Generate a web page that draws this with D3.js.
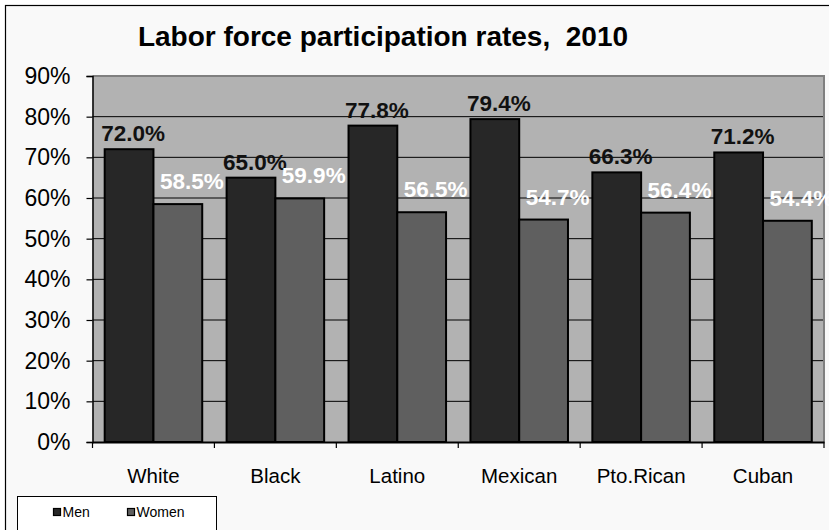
<!DOCTYPE html>
<html>
<head>
<meta charset="utf-8">
<script src="https://cdn.jsdelivr.net/npm/d3@7"></script>
<style>
  html, body { margin: 0; padding: 0; background: #ffffff; }
  svg { display: block; }
  .pre { white-space: pre; }
</style>
</head>
<body>
<svg id="chart" width="829" height="530"></svg>
<script>
const categories = ["White", "Black", "Latino", "Mexican", "Pto.Rican", "Cuban"];
const seriesNames = ["Men", "Women"];
const menValues = [72.0, 65.0, 77.8, 79.4, 66.3, 71.2];
const womenValues = [58.5, 59.9, 56.5, 54.7, 56.4, 54.4];
const yTicks = [0, 10, 20, 30, 40, 50, 60, 70, 80, 90];
const titleText = "Labor force participation rates,  2010";

const colors = { Men: "#272727", Women: "#5f5f5f" };
const labelColors = { Men: "#111111", Women: "#ffffff" };
const labelDx = { Men: 4, Women: 14 };
const labelDy = { Men: -8, Women: -15 };

const svg = d3.select("#chart");
const W = 829, H = 530;
const plot = { left: 92.5, right: 824, top: 76, bottom: 442 };

// outer background + border
svg.append("rect").attr("x", 0).attr("y", 0).attr("width", W).attr("height", H).attr("fill", "#ffffff");
svg.append("rect").attr("x", 5.5).attr("y", 5.5).attr("width", W + 20).attr("height", H + 20)
  .attr("fill", "#f9f9f9").attr("stroke", "#000").attr("stroke-width", 1.2);

// title
svg.append("text").attr("class", "pre").attr("x", 383).attr("y", 46).attr("text-anchor", "middle")
  .attr("font-family", "Liberation Sans, Arial, sans-serif").attr("font-size", 28).attr("font-weight", "bold")
  .attr("fill", "#000").text(titleText);

const x0 = d3.scaleBand().domain(categories).range([plot.left, plot.right]).padding(0);
const x1 = d3.scaleBand().domain(seriesNames).range([x0.bandwidth() * 0.1, x0.bandwidth() * 0.9]).padding(0);
const y = d3.scaleLinear().domain([0, 90]).range([plot.bottom, plot.top]);

// plot bg
svg.append("rect").attr("x", plot.left).attr("y", plot.top)
  .attr("width", plot.right - plot.left).attr("height", plot.bottom - plot.top)
  .attr("fill", "#b2b2b2");

// gridlines
svg.append("g").selectAll("line").data(yTicks.filter(d => d > 0 && d < 90)).join("line")
  .attr("x1", plot.left).attr("x2", plot.right)
  .attr("y1", d => y(d)).attr("y2", d => y(d))
  .attr("stroke", "#000").attr("stroke-width", 1);

// top & right borders (gray)
svg.append("path")
  .attr("d", `M${plot.left},${y(90)}H${plot.right}V${plot.bottom}`)
  .attr("fill", "none").attr("stroke", "#808080").attr("stroke-width", 2);

// bars
const data = categories.map((c, i) => ({ cat: c, vals: [
  { s: "Men", v: menValues[i] }, { s: "Women", v: womenValues[i] } ] }));

const groups = svg.append("g").selectAll("g").data(data).join("g")
  .attr("transform", d => `translate(${x0(d.cat)},0)`);

groups.selectAll("rect").data(d => d.vals).join("rect")
  .attr("x", d => x1(d.s)).attr("width", x1.bandwidth())
  .attr("y", d => y(d.v)).attr("height", d => y(0) - y(d.v))
  .attr("fill", d => colors[d.s]).attr("stroke", "#000").attr("stroke-width", 2);

groups.selectAll("text").data(d => d.vals).join("text")
  .attr("x", d => x1(d.s) + x1.bandwidth() / 2 + labelDx[d.s])
  .attr("y", d => y(d.v) + labelDy[d.s])
  .attr("text-anchor", "middle")
  .attr("font-family", "Liberation Sans, Arial, sans-serif").attr("font-size", 22.5).attr("font-weight", "bold")
  .attr("fill", d => labelColors[d.s])
  .text(d => d.v.toFixed(1) + "%");

// y axis
const yAxis = d3.axisLeft(y).tickValues(yTicks).tickFormat(d => d + "%").tickSizeOuter(0).tickSize(6).tickPadding(16);
const yg = svg.append("g").attr("transform", `translate(${plot.left},0)`).call(yAxis);
yg.select(".domain").attr("stroke", "#000").attr("stroke-width", 1.5);
yg.selectAll(".tick line").attr("stroke", "#000").attr("stroke-width", 1.2);
yg.selectAll(".tick text").attr("font-family", "Liberation Sans, Arial, sans-serif")
  .attr("font-size", 23).attr("fill", "#000");

// x axis
const xAxis = d3.axisBottom(x0).tickSize(0).tickPadding(26).tickSizeOuter(0);
const xg = svg.append("g").attr("transform", `translate(0,${plot.bottom})`).call(xAxis);
xg.select(".domain").attr("stroke", "#000").attr("stroke-width", 2);
xg.selectAll(".tick text").attr("font-family", "Liberation Sans, Arial, sans-serif")
  .attr("font-size", 20.5).attr("fill", "#000");
// category boundary ticks
const bounds = categories.map(c => x0(c)).concat([plot.right]);
svg.append("g").selectAll("line").data(bounds).join("line")
  .attr("x1", d => d).attr("x2", d => d)
  .attr("y1", plot.bottom).attr("y2", plot.bottom + 6)
  .attr("stroke", "#000").attr("stroke-width", 1.2);

// legend
const lg = svg.append("g").attr("transform", "translate(17.5,496.5)");
lg.append("rect").attr("width", 199).attr("height", 40).attr("fill", "#fff").attr("stroke", "#000").attr("stroke-width", 1);
const items = lg.selectAll("g").data(seriesNames).join("g")
  .attr("transform", (d, i) => `translate(${36 + i * 74},12)`);
items.append("rect").attr("width", 7).attr("height", 7).attr("y", 0)
  .attr("fill", d => colors[d]).attr("stroke", "#000").attr("stroke-width", 1.2);
items.append("text").attr("x", 9).attr("y", 8)
  .attr("font-family", "Liberation Sans, Arial, sans-serif").attr("font-size", 14).attr("fill", "#000")
  .text(d => d);
</script>
</body>
</html>
